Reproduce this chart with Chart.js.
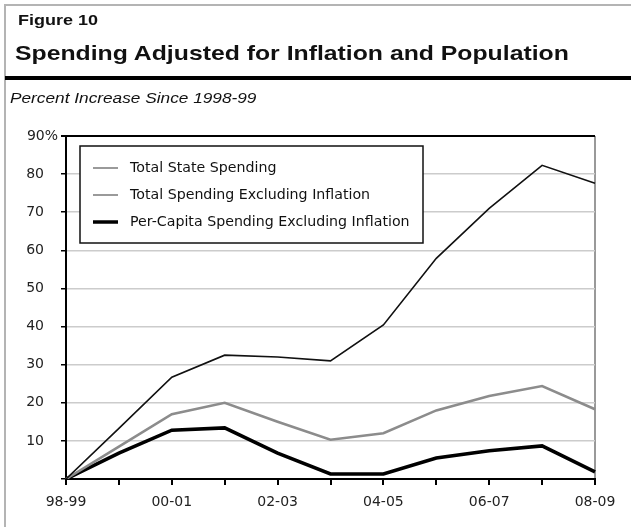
<!DOCTYPE html>
<html>
<head>
<meta charset="utf-8">
<script src="https://cdn.jsdelivr.net/npm/chart.js@4"></script>
<style>
  html, body { margin: 0; padding: 0; background: #fff; }
  #wrap { position: relative; width: 631px; height: 527px; overflow: hidden; font-family: "Liberation Sans", Arial, sans-serif; }
  #chart { position: absolute; left: 0; top: 0; }
  .frameTop { position: absolute; left: 5px; top: 4px; width: 626px; height: 2px; background: #b4b4b4; }
  .frameLeft { position: absolute; left: 4px; top: 4px; width: 2px; height: 523px; background: #b4b4b4; }
  .rule { position: absolute; left: 5px; top: 76px; width: 626px; height: 4px; background: #000; }
  .fig { position: absolute; left: 18px; top: 11px; font-size: 15px; font-weight: bold; color: #111; transform: scaleX(1.2); transform-origin: left top; }
  .title { position: absolute; left: 15px; top: 41px; font-size: 21px; font-weight: bold; color: #111; white-space: nowrap; transform: scaleX(1.18); transform-origin: left top; }
  .sub { position: absolute; left: 10px; top: 89px; font-size: 15px; font-style: italic; color: #111; white-space: nowrap; transform: scaleX(1.15); transform-origin: left top; }
</style>
</head>
<body>
<div id="wrap">
  <canvas id="chart" width="631" height="527"></canvas>
  <div class="frameTop"></div>
  <div class="frameLeft"></div>
  <div class="fig">Figure 10</div>
  <div class="title">Spending Adjusted for Inflation and Population</div>
  <div class="rule"></div>
  <div class="sub">Percent Increase Since 1998-99</div>
</div>
<script>
const anios = ["98-99", "99-00", "00-01", "01-02", "02-03", "03-04", "04-05", "05-06", "06-07", "07-08", "08-09"];
const gastoTotal = [0, 13.3, 26.7, 32.5, 32, 31, 40.4, 57.9, 71, 82.3, 77.6];
const gastoSinInflacion = [0, 8.5, 17, 20, 15, 10.3, 12, 18, 21.8, 24.4, 18.3];
const perCapitaSinInflacion = [0, 6.8, 12.8, 13.4, 6.8, 1.3, 1.3, 5.5, 7.4, 8.7, 1.9];
const etiquetasY = { 90: "90%" };

const fuente = '"DejaVu Sans", "Liberation Sans", Arial, sans-serif';

// leyenda dibujada dentro del area del grafico, con recuadro
const leyendaCaja = {
    id: 'leyendaCaja',
    afterDraw(chart) {
        const ctx = chart.ctx;
        const x0 = 80, y0 = 146, w = 343, h = 97;
        ctx.save();
        ctx.fillStyle = '#fff';
        ctx.fillRect(x0, y0, w, h);
        ctx.strokeStyle = '#111';
        ctx.lineWidth = 1.5;
        ctx.strokeRect(x0, y0, w, h);
        const filas = [168, 195, 222];
        const muestras = ['#9a9a9a', '#9a9a9a', '#000'];
        const grosor = [2, 2, 3.5];
        chart.data.datasets.forEach((ds, i) => {
            ctx.strokeStyle = muestras[i];
            ctx.lineWidth = grosor[i];
            ctx.beginPath();
            ctx.moveTo(93, filas[i]);
            ctx.lineTo(118, filas[i]);
            ctx.stroke();
            ctx.fillStyle = '#111';
            ctx.font = '14.2px ' + fuente;
            ctx.textBaseline = 'middle';
            ctx.fillText(ds.label, 130, filas[i]);
        });
        ctx.restore();
    }
};

const ctx = document.getElementById('chart').getContext('2d');
new Chart(ctx, {
    type: 'line',
    data: {
        labels: anios,
        datasets: [
            { label: 'Total State Spending', data: gastoTotal, borderColor: '#111', borderWidth: 1.6 },
            { label: 'Total Spending Excluding Inflation', data: gastoSinInflacion, borderColor: '#8c8c8c', borderWidth: 2.6 },
            { label: 'Per-Capita Spending Excluding Inflation', data: perCapitaSinInflacion, borderColor: '#000', borderWidth: 3.6 }
        ]
    },
    options: {
        responsive: false,
        animation: false,
        events: [],
        elements: { point: { radius: 0 }, line: { tension: 0 } },
        layout: { padding: { top: 136, left: 10, right: 36, bottom: 10 } },
        plugins: { legend: { display: false }, tooltip: { enabled: false } },
        scales: {
            x: {
                offset: false,
                afterFit: s => { s.height = 38; },
                border: { color: '#000', width: 2 },
                grid: {
                    color: c => c.index === anios.length - 1 ? '#999' : 'rgba(0,0,0,0)',
                    lineWidth: 2,
                    tickColor: '#000',
                    tickLength: 6,
                    drawOnChartArea: true
                },
                ticks: {
                    autoSkip: false,
                    maxRotation: 0,
                    padding: 9,
                    color: '#222',
                    font: { family: fuente, size: 14 },
                    callback: (v, i) => i % 2 === 0 ? anios[i] : ''
                }
            },
            y: {
                min: 0,
                max: 90,
                afterFit: s => { s.width = 56; },
                border: { color: '#000', width: 2 },
                grid: {
                    color: c => c.tick.value === 90 ? '#000' : (c.tick.value === 0 ? 'rgba(0,0,0,0)' : '#cccccc'),
                    lineWidth: c => c.tick.value === 90 ? 2 : 1.5,
                    tickColor: '#000',
                    tickLength: 5
                },
                ticks: {
                    stepSize: 10,
                    padding: 3,
                    color: '#222',
                    font: { family: fuente, size: 14 },
                    callback: v => v === 0 ? '' : (etiquetasY[v] || v + '\u2002\u2002')
                }
            }
        }
    },
    plugins: [leyendaCaja]
});
</script>
</body>
</html>
